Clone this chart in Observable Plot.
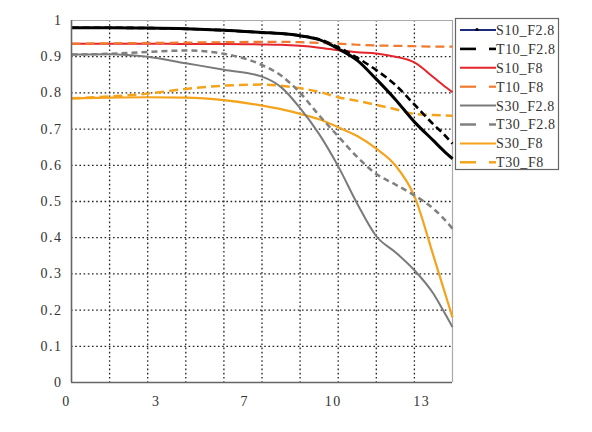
<!DOCTYPE html>
<html>
<head>
<meta charset="utf-8">
<script src="https://cdn.jsdelivr.net/npm/d3@7"></script>
<script src="https://cdn.jsdelivr.net/npm/@observablehq/plot@0.6"></script>
<style>
  body { margin: 0; background: #fff; }
  #chart { width: 592px; height: 432px; }
</style>
</head>
<body>
<div id="chart"></div>
<script>
// sample positions along the x axis
const xs = [0, 1.4, 2.8, 4.2, 5.6, 7, 7.7, 8.4, 9.1, 9.8, 10.5, 11.2, 11.9, 12.6, 13.3, 13.65, 14];

// MTF values
const s10f28 = [0.98, 0.98, 0.979, 0.977, 0.973, 0.967, 0.964, 0.958, 0.947, 0.922, 0.89, 0.838, 0.782, 0.72, 0.668, 0.642, 0.618];
const t10f28 = [0.98, 0.98, 0.979, 0.977, 0.973, 0.967, 0.964, 0.958, 0.948, 0.926, 0.897, 0.863, 0.822, 0.768, 0.713, 0.688, 0.66];
const s10f8 = [0.936, 0.936, 0.936, 0.935, 0.935, 0.934, 0.933, 0.93, 0.925, 0.918, 0.912, 0.909, 0.9, 0.884, 0.843, 0.822, 0.802];
const t10f8 = [0.936, 0.937, 0.938, 0.939, 0.94, 0.941, 0.941, 0.94, 0.938, 0.936, 0.933, 0.931, 0.93, 0.929, 0.928, 0.928, 0.928];
const s30f28 = [0.906, 0.907, 0.9, 0.882, 0.864, 0.845, 0.816, 0.758, 0.686, 0.597, 0.494, 0.404, 0.36, 0.31, 0.245, 0.2, 0.153];
const t30f28 = [0.906, 0.908, 0.913, 0.917, 0.908, 0.877, 0.848, 0.8, 0.738, 0.68, 0.623, 0.576, 0.547, 0.517, 0.48, 0.455, 0.425];
const s30f8 = [0.785, 0.787, 0.788, 0.787, 0.78, 0.765, 0.755, 0.742, 0.727, 0.705, 0.681, 0.646, 0.6, 0.515, 0.35, 0.265, 0.18];
const t30f8 = [0.785, 0.79, 0.798, 0.811, 0.82, 0.823, 0.82, 0.813, 0.803, 0.788, 0.778, 0.767, 0.755, 0.742, 0.739, 0.738, 0.737];

// axes
const xTickPos = [0, 3.3, 6.55, 9.8, 13.05];
const xTickLabels = ["0", "3", "7", "10", "13"];
const xGrid = [1.4, 2.8, 4.2, 5.6, 7, 8.4, 9.8, 11.2, 12.6];
const yTicks = [0, 0.1, 0.2, 0.3, 0.4, 0.5, 0.6, 0.7, 0.8, 0.9, 1];
const yTickLabels = ["0", "0.1", "0.2", "0.3", "0.4", "0.5", "0.6", "0.7", "0.8", "0.9", "1"];
const yGrid = [0.1, 0.2, 0.3, 0.4, 0.5, 0.6, 0.7, 0.8, 0.9];

const names = ["S10_F2.8", "T10_F2.8", "S10_F8", "T10_F8", "S30_F2.8", "T30_F2.8", "S30_F8", "T30_F8"];
const values = [s10f28, t10f28, s10f8, t10f8, s30f28, t30f28, s30f8, t30f8];

// look of each series (chart line, legend line)
const styles = {
  "S10_F2.8": {stroke: "#000", legend: "#1c2a80", width: 3, dash: null},
  "T10_F2.8": {stroke: "#000", legend: "#000", width: 2.6, dash: "7,4"},
  "S10_F8": {stroke: "#e4252b", legend: "#e4252b", width: 2, dash: null},
  "T10_F8": {stroke: "#f07a30", legend: "#f07a30", width: 2.2, dash: "9,5"},
  "S30_F2.8": {stroke: "#7a7a7a", legend: "#7a7a7a", width: 2, dash: null},
  "T30_F2.8": {stroke: "#808080", legend: "#808080", width: 2.5, dash: "6,4"},
  "S30_F8": {stroke: "#f4a31c", legend: "#f4a31c", width: 2.2, dash: null},
  "T30_F8": {stroke: "#f4a31c", legend: "#f4a31c", width: 2.5, dash: "9,5"}
};

const series = names.map((name, i) => ({name, data: xs.map((x, j) => ({x, v: values[i][j]}))}));
const drawOrder = ["S30_F8", "T30_F8", "S30_F2.8", "T30_F2.8", "S10_F8", "T10_F8", "S10_F2.8", "T10_F2.8"];

const font = "'Liberation Serif', 'DejaVu Serif', serif";

const chart = Plot.plot({
  width: 592,
  height: 432,
  marginLeft: 71,
  marginTop: 20,
  marginRight: 140,
  marginBottom: 50,
  style: {fontFamily: font, fontSize: "14px", color: "#333", background: "#fff"},
  x: {domain: [0, 14]},
  y: {domain: [0, 1]},
  marks: [
    Plot.ruleX(xGrid, {stroke: "#222", strokeWidth: 1.3, strokeDasharray: "1.6,2.6"}),
    Plot.ruleY(yGrid, {stroke: "#222", strokeWidth: 1.3, strokeDasharray: "1.6,2.6"}),
    Plot.ruleY([1], {stroke: "#aaa", strokeWidth: 1.2}),
    Plot.ruleX([14], {stroke: "#aaa", strokeWidth: 1.2}),
    ...drawOrder.map(n => {
      const s = series.find(d => d.name === n);
      const st = styles[n];
      return Plot.line(s.data, {
        x: "x", y: "v", curve: "monotone-x",
        stroke: st.stroke, strokeWidth: st.width,
        strokeDasharray: st.dash, strokeLinecap: "butt"
      });
    }),
    Plot.ruleX([0], {stroke: "#666", strokeWidth: 1.6}),
    Plot.ruleY([0], {stroke: "#666", strokeWidth: 1.6}),
    Plot.axisX(xTickPos, {
      tickSize: 0, tickPadding: 14, dx: -5, label: null,
      tickFormat: d => xTickLabels[xTickPos.indexOf(d)]
    }),
    Plot.axisY(yTicks, {
      tickSize: 0, tickPadding: 9, label: null,
      tickFormat: d => yTickLabels[yTicks.indexOf(d)]
    })
  ]
});

const svg = d3.select(chart);
svg.selectAll("g[aria-label='y-axis tick label'] text, g[aria-label='x-axis tick label'] text")
  .style("letter-spacing", "1.5px");

// legend box on the right
const lg = svg.append("g")
  .attr("font-family", font).attr("font-size", 14).attr("fill", "#333")
  .attr("text-anchor", "start");
lg.append("rect")
  .attr("x", 455.5).attr("y", 18.5).attr("width", 103).attr("height", 151)
  .attr("fill", "#fff").attr("stroke", "#666").attr("stroke-width", 1.2);
names.forEach((n, i) => {
  const st = styles[n];
  const y = 30 + i * 18.9;
  if (st.dash) {
    lg.append("line").attr("x1", 460).attr("x2", 476).attr("y1", y).attr("y2", y)
      .attr("stroke", st.legend).attr("stroke-width", st.width);
    lg.append("line").attr("x1", 489).attr("x2", 496).attr("y1", y).attr("y2", y)
      .attr("stroke", st.legend).attr("stroke-width", st.width);
  } else {
    lg.append("line").attr("x1", 460).attr("x2", 496).attr("y1", y).attr("y2", y)
      .attr("stroke", st.legend).attr("stroke-width", 2);
  }
  if (n === "S10_F2.8") {
    lg.append("circle").attr("cx", 477).attr("cy", y - 0.5).attr("r", 1.6).attr("fill", "#000");
  }
  lg.append("text").attr("x", 496).attr("y", y).attr("dy", "0.35em")
    .attr("text-anchor", "start")
    .style("letter-spacing", "0.6px").text(n);
});

d3.select("#chart").append(() => chart);
</script>
</body>
</html>
